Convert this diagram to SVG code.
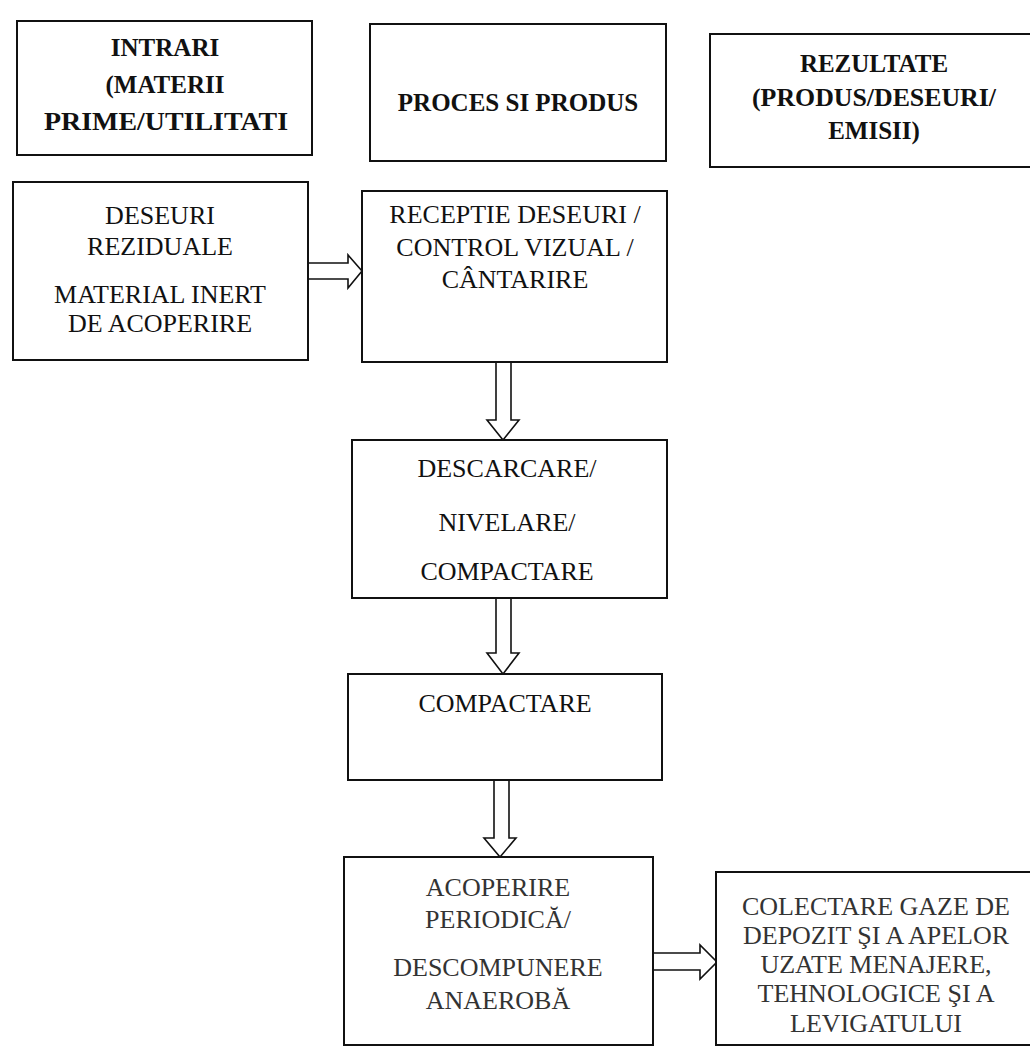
<svg xmlns="http://www.w3.org/2000/svg" width="1030" height="1054" viewBox="0 0 1030 1054">
<style>
.box{fill:#fff;stroke:#111;stroke-width:2}
.arr{fill:#fff;stroke:#111;stroke-width:1.6;stroke-linejoin:miter}
text{font-family:'Liberation Serif','Times New Roman',serif;text-anchor:middle;fill:#111}
.h{font-weight:bold;font-size:25px}
.t{font-size:26px}
.g{fill:#333}
</style>
<rect width="1030" height="1054" fill="#fff"/>
<g id="connectors">
<polygon class="arr" points="308,263 348,263 348,255 362,271 348,288 348,279 308,279"/>
<polygon class="arr" points="496,362 496,420 487,420 503,440 519,420 511,420 511,362"/>
<polygon class="arr" points="496,598 496,653 487,653 503,674 519,653 511,653 511,598"/>
<polygon class="arr" points="494,780 494,838 484,838 500,857 516,838 509,838 509,780"/>
<polygon class="arr" points="653,953 700,953 700,945 717,962 700,979 700,970 653,970"/>
</g>
<g id="intrari">
<rect class="box" x="17" y="21" width="295" height="134"/>
<text class="h" x="165" y="56">INTRARI</text>
<text class="h" x="165" y="93">(MATERII</text>
<text class="h" x="166" y="130" textLength="244" lengthAdjust="spacingAndGlyphs">PRIME/UTILITATI</text>
</g>
<g id="proces">
<rect class="box" x="370" y="24" width="296" height="137"/>
<text class="h" x="518" y="111">PROCES SI PRODUS</text>
</g>
<g id="rezultate">
<rect class="box" x="710" y="34" width="330" height="133"/>
<text class="h" x="874" y="72">REZULTATE</text>
<text class="h" x="874" y="106" textLength="244" lengthAdjust="spacingAndGlyphs">(PRODUS/DESEURI/</text>
<text class="h" x="874" y="139">EMISII)</text>
</g>
<g id="deseuri">
<rect class="box" x="13" y="182" width="295" height="178"/>
<text class="t" x="160" y="224">DESEURI</text>
<text class="t" x="160" y="255">REZIDUALE</text>
<text class="t" x="160" y="303">MATERIAL INERT</text>
<text class="t" x="160" y="332">DE ACOPERIRE</text>
</g>
<g id="receptie">
<rect class="box" x="362" y="191" width="305" height="171"/>
<text class="t" x="515" y="223">RECEPTIE DESEURI /</text>
<text class="t" x="515" y="256">CONTROL VIZUAL /</text>
<text class="t" x="515" y="288">CÂNTARIRE</text>
</g>
<g id="descarcare">
<rect class="box" x="352" y="440" width="315" height="158"/>
<text class="t" x="507" y="477">DESCARCARE/</text>
<text class="t" x="507" y="531">NIVELARE/</text>
<text class="t" x="507" y="580">COMPACTARE</text>
</g>
<g id="compactare">
<rect class="box" x="348" y="674" width="314" height="106"/>
<text class="t" x="505" y="712">COMPACTARE</text>
</g>
<g id="acoperire">
<rect class="box" x="344" y="857" width="309" height="188"/>
<text class="t g" x="498" y="896">ACOPERIRE</text>
<text class="t g" x="498" y="928">PERIODICĂ/</text>
<text class="t g" x="498" y="976">DESCOMPUNERE</text>
<text class="t g" x="498" y="1009">ANAEROBĂ</text>
</g>
<g id="colectare">
<rect class="box" x="716" y="872" width="330" height="173"/>
<text class="t g" x="876" y="915">COLECTARE GAZE DE</text>
<text class="t g" x="876" y="944">DEPOZIT ŞI A APELOR</text>
<text class="t g" x="876" y="973">UZATE MENAJERE,</text>
<text class="t g" x="876" y="1002">TEHNOLOGICE ŞI A</text>
<text class="t g" x="876" y="1032">LEVIGATULUI</text>
</g>
</svg>
